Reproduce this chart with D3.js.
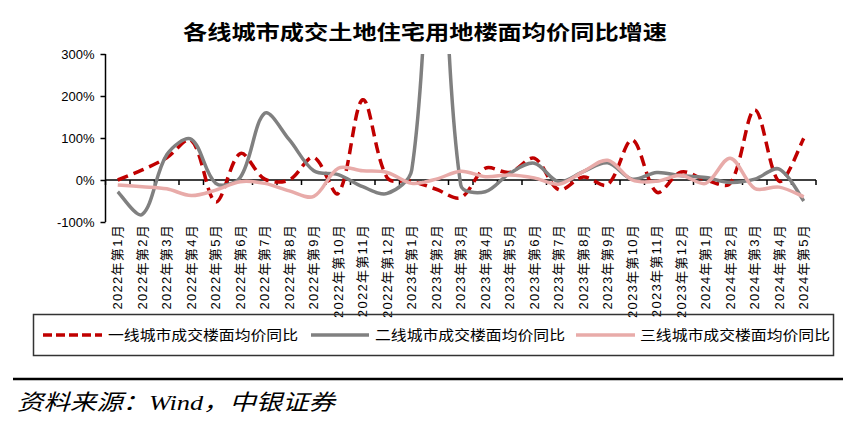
<!DOCTYPE html>
<html><head><meta charset="utf-8">
<script src="https://cdn.jsdelivr.net/npm/d3@7/dist/d3.min.js"></script>
<style>
html,body{margin:0;padding:0;background:#fff;}
svg{display:block;}
</style></head>
<body>
<script>
const categories = ["2022年第1月","2022年第2月","2022年第3月","2022年第4月","2022年第5月","2022年第6月","2022年第7月","2022年第8月","2022年第9月","2022年第10月","2022年第11月","2022年第12月",
"2023年第1月","2023年第2月","2023年第3月","2023年第4月","2023年第5月","2023年第6月","2023年第7月","2023年第8月","2023年第9月","2023年第10月","2023年第11月","2023年第12月",
"2024年第1月","2024年第2月","2024年第3月","2024年第4月","2024年第5月"];
const tier1 = [0, 24, 53, 95, -52, 63, 2, 0, 54, -32, 191, 5, -3, -22, -42, 28, 18, 52, -23, 7, -11, 95, -29, 19, 0, -8, 167, -3, 99];
const tier2 = [-28, -82, 60, 97, -8, 6, 159, 96, 22, 13, -16, -32, 24, 740, -12, -28, 16, 40, -4, 20, 41, 2, 18, 10, 6, -6, 2, 26, -50];
const tier3 = [-12, -16, -21, -37, -24, -4, -8, -26, -39, 28, 22, 18, -8, 2, 21, 8, 12, 5, -10, 20, 47, 0, -3, 11, -8, 52, -20, -17, -40];
const yTicks = [-100, 0, 100, 200, 300];
const seriesNames = ["一线城市成交楼面均价同比","二线城市成交楼面均价同比","三线城市成交楼面均价同比"];
const title = "各线城市成交土地住宅用地楼面均价同比增速";
const source = "资料来源：Wind，中银证券";

// Spreadsheet-style smoothing: Catmull-Rom tangents split by neighbouring chord lengths
function SmoothCurve(context) { this._context = context; }
SmoothCurve.prototype = {
  areaStart() {}, areaEnd() {},
  lineStart() { this._pts = []; },
  point(x, y) { this._pts.push([+x, +y]); },
  lineEnd() {
    const p = this._pts, n = p.length, c = this._context;
    if (!n) return;
    c.moveTo(p[0][0], p[0][1]);
    if (n === 1) return;
    const dist = (a, b) => Math.hypot(b[0] - a[0], b[1] - a[1]);
    const outC = [], inC = [];
    for (let i = 0; i < n; i++) {
      const prev = p[Math.max(0, i - 1)], next = p[Math.min(n - 1, i + 1)];
      const vx = (next[0] - prev[0]) / 6, vy = (next[1] - prev[1]) / 6;
      let dp = i > 0 ? dist(p[i - 1], p[i]) : 0, dn = i < n - 1 ? dist(p[i], p[i + 1]) : 0;
      let fo, fi;
      if (i === 0 || i === n - 1) { fo = 1; fi = 1; }
      else { const s = dp + dn || 1; fo = 2 * dn / s; fi = 2 * dp / s; }
      outC.push([p[i][0] + vx * fo, p[i][1] + vy * fo]);
      inC.push([p[i][0] - vx * fi, p[i][1] - vy * fi]);
    }
    for (let i = 0; i < n - 1; i++) {
      c.bezierCurveTo(outC[i][0], outC[i][1], inC[i + 1][0], inC[i + 1][1], p[i + 1][0], p[i + 1][1]);
    }
  }
};
const smoothCurve = ctx => new SmoothCurve(ctx);

const W = 855, H = 436;
const plot = {left: 105.5, right: 816, top: 54, bottom: 222};
const svg = d3.select("body").append("svg").attr("width", W).attr("height", H);

const x = d3.scaleBand().domain(categories).range([plot.left, plot.right]);
const y = d3.scaleLinear().domain([-100, 300]).range([plot.bottom, plot.top]);

// title
svg.append("text").attr("x", 183).attr("y", 40)
  .attr("font-family", "'Noto Sans CJK SC'").attr("font-weight", 700).attr("font-size", 20)
  .attr("textLength", 484).attr("lengthAdjust", "spacingAndGlyphs")
  .text(title);

// clip
svg.append("defs").append("clipPath").attr("id", "clip")
  .append("rect").attr("x", plot.left).attr("y", plot.top).attr("width", plot.right - plot.left).attr("height", plot.bottom - plot.top + 4);

// y axis
const yAxis = svg.append("g").attr("transform", `translate(${plot.left},0)`)
  .call(d3.axisLeft(y).tickValues(yTicks).tickFormat(d => d + "%").tickSize(5).tickPadding(8));
yAxis.select(".domain").attr("stroke", "#000").attr("stroke-width", 1.5).attr("d", `M0,${plot.top}V${plot.bottom}`);
yAxis.selectAll(".tick line").attr("stroke", "#000").attr("stroke-width", 1.5);
yAxis.selectAll(".tick text").attr("font-family", "'Liberation Sans', Arial, sans-serif").attr("font-size", 13).attr("fill", "#000")
  .attr("x", -11);

// x axis at zero
const xg = svg.append("g").attr("transform", `translate(0,${y(0)})`);
xg.append("line").attr("x1", plot.left).attr("x2", plot.right).attr("y1", 0).attr("y2", 0)
  .attr("stroke", "#000").attr("stroke-width", 1.5);
const bounds = categories.map(c => x(c)).concat([plot.right]);
xg.selectAll("line.tk").data(bounds).join("line").attr("class", "tk")
  .attr("x1", d => d).attr("x2", d => d).attr("y1", 0).attr("y2", 5)
  .attr("stroke", "#000").attr("stroke-width", 1.5);

// x labels
svg.append("g").selectAll("text").data(categories).join("text")
  .attr("transform", d => `translate(${x(d) + x.bandwidth() / 2},224) rotate(-90)`)
  .attr("text-anchor", "end").attr("dy", "0.35em")
  .attr("font-family", "'Liberation Sans', 'Noto Sans CJK SC', sans-serif").attr("font-size", 13)
  .attr("letter-spacing", 1.3).attr("fill", "#000")
  .text(d => d);

// lines
const styles = [
  {data: tier1, color: "#C00000", dash: "11,6"},
  {data: tier2, color: "#808080", dash: null},
  {data: tier3, color: "#E8ABA9", dash: null}
];
const line = d3.line()
  .x((d, i) => x(categories[i]) + x.bandwidth() / 2)
  .y(d => y(d))
  .curve(smoothCurve);
const lg = svg.append("g").attr("clip-path", "url(#clip)");
styles.forEach(s => {
  lg.append("path").attr("d", line(s.data)).attr("fill", "none")
    .attr("stroke", s.color).attr("stroke-width", 3.5)
    .attr("stroke-dasharray", s.dash).attr("stroke-linejoin", "round");
});

// legend
svg.append("rect").attr("x", 33.5).attr("y", 314.5).attr("width", 800).attr("height", 41)
  .attr("fill", "none").attr("stroke", "#333").attr("stroke-width", 1.5);
const legItems = [
  {x1: 43, x2: 102, tx: 108},
  {x1: 311, x2: 369, tx: 375},
  {x1: 576, x2: 635, tx: 640}
];
legItems.forEach((li, i) => {
  svg.append("line").attr("x1", li.x1).attr("x2", li.x2).attr("y1", 335).attr("y2", 335)
    .attr("stroke", styles[i].color).attr("stroke-width", 3.5).attr("stroke-dasharray", i === 0 ? "9,4" : null);
  svg.append("text").attr("x", li.tx).attr("y", 340)
    .attr("font-family", "'Noto Sans CJK SC'").attr("font-size", 14).attr("fill", "#000")
    .attr("textLength", 190).attr("lengthAdjust", "spacingAndGlyphs")
    .text(seriesNames[i]);
});

// separator and source
svg.append("line").attr("x1", 13).attr("x2", 843).attr("y1", 379).attr("y2", 379)
  .attr("stroke", "#000").attr("stroke-width", 2.5);
svg.append("text").attr("x", 17).attr("y", 410)
  .attr("font-family", "'Liberation Serif', 'Noto Sans CJK SC', serif").attr("font-style", "italic").attr("font-size", 22).attr("fill", "#000")
  .attr("textLength", 318).attr("lengthAdjust", "spacingAndGlyphs")
  .text(source);
</script>
</body></html>
